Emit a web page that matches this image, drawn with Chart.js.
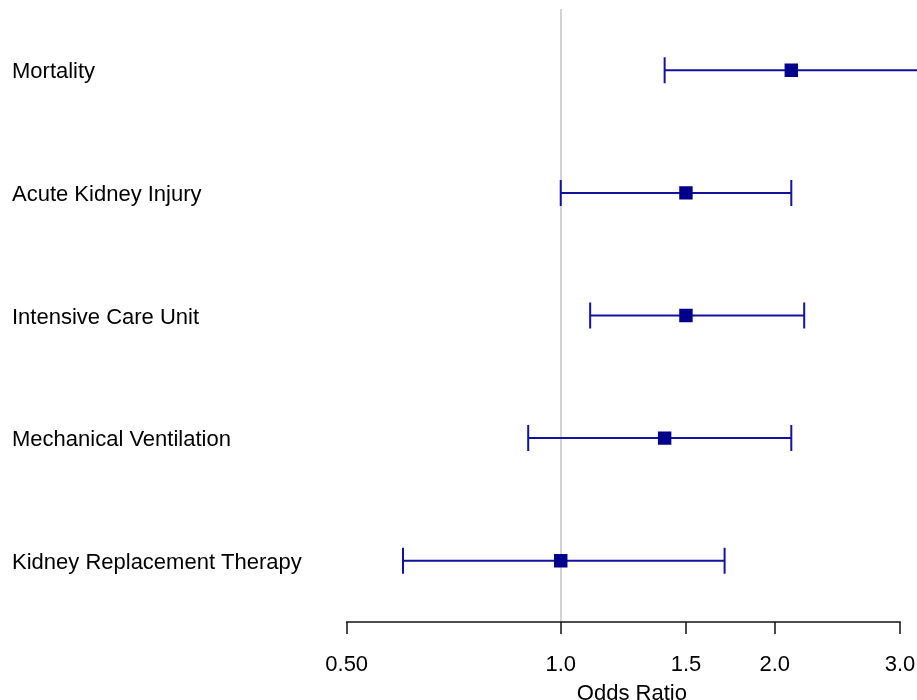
<!DOCTYPE html>
<html>
<head>
<meta charset="utf-8">
<script src="https://cdn.jsdelivr.net/npm/chart.js@4"></script>
<style>
  html, body { margin: 0; padding: 0; background: #fff; overflow: hidden; }
  #wrap { width: 917px; height: 720px; }
</style>
</head>
<body>
<div id="wrap"><canvas id="forest" width="917" height="720"></canvas></div>
<script>
/* forest plot: odds ratios with 95% CI */
var outcomes  = ['Mortality', 'Acute Kidney Injury', 'Intensive Care Unit', 'Mechanical Ventilation', 'Kidney Replacement Therapy'];
var oddsRatio = [2.11, 1.50, 1.50, 1.40, 1.00];
var lowerCI   = [1.40, 1.00, 1.10, 0.90, 0.60];
var upperCI   = [3.40, 2.11, 2.20, 2.11, 1.70];
var tickVals  = [0.5, 1.0, 1.5, 2.0, 3.0];
var tickText  = ['0.50', '1.0', '1.5', '2.0', '3.0'];

Chart.defaults.font.family = "'Liberation Sans', Arial, Helvetica, sans-serif";
Chart.defaults.color = '#000';

var navy = '#00008b';
var whisker = '#1212a0';

// CI whiskers, drawn under the squares
var ciBars = {
  id: 'ciBars',
  beforeDatasetsDraw: function(chart) {
    var ctx = chart.ctx, xs = chart.scales.x, ys = chart.scales.y, a = chart.chartArea;
    ctx.save();
    ctx.beginPath();
    ctx.rect(a.left, a.top, a.right - a.left, a.bottom - a.top);
    ctx.clip();
    ctx.strokeStyle = whisker;
    ctx.lineWidth = 2;
    for (var i = 0; i < outcomes.length; i++) {
      var y = ys.getPixelForValue(i);
      var x0 = xs.getPixelForValue(lowerCI[i]);
      var x1 = xs.getPixelForValue(upperCI[i]);
      ctx.beginPath();
      ctx.moveTo(x0, y); ctx.lineTo(x1, y);
      ctx.moveTo(x0, y - 13); ctx.lineTo(x0, y + 13);
      ctx.moveTo(x1, y - 13); ctx.lineTo(x1, y + 13);
      ctx.stroke();
    }
    ctx.restore();
  },
  // R-style axis line from first to last tick only
  afterDraw: function(chart) {
    var ctx = chart.ctx, xs = chart.scales.x, a = chart.chartArea;
    ctx.save();
    ctx.strokeStyle = '#111';
    ctx.lineWidth = 1.5;
    ctx.beginPath();
    ctx.moveTo(xs.getPixelForValue(tickVals[0]) - 0.75, a.bottom);
    ctx.lineTo(xs.getPixelForValue(tickVals[tickVals.length - 1]) + 0.75, a.bottom);
    ctx.stroke();
    ctx.restore();
  }
};

new Chart(document.getElementById('forest'), {
  type: 'scatter',
  data: {
    datasets: [{
      data: outcomes.map(function(o, i) { return { x: oddsRatio[i], y: o }; }),
      pointStyle: 'rect',
      pointRadius: 9.5,
      pointHoverRadius: 9.5,
      backgroundColor: navy,
      borderColor: navy,
      borderWidth: 0
    }]
  },
  options: {
    responsive: false,
    animation: false,
    layout: { autoPadding: false, padding: { left: 12, top: 9, right: 0, bottom: 0 } },
    plugins: { legend: { display: false }, tooltip: { enabled: false } },
    scales: {
      x: {
        type: 'logarithmic',
        min: 0.5,
        max: 3.17,
        afterBuildTicks: function(s) { s.ticks = tickVals.map(function(v) { return { value: v }; }); },
        afterFit: function(s) { s.height = 98; s.paddingLeft = 0; s.paddingRight = 0; },
        border: { display: false },
        grid: {
          drawOnChartArea: true,
          drawTicks: true,
          tickLength: 12,
          tickWidth: 1.5,
          tickColor: '#111',
          lineWidth: 2,
          color: function(c) { return c.tick && c.tick.value === 1 ? '#d3d3d3' : 'rgba(0,0,0,0)'; }
        },
        ticks: {
          padding: 18,
          maxRotation: 0,
          autoSkip: false,
          font: { size: 22 },
          color: '#000',
          callback: function(v) { var k = tickVals.indexOf(v); return k < 0 ? '' : tickText[k]; }
        },
        title: { display: true, text: 'Odds Ratio', font: { size: 22 }, color: '#000', padding: { top: 0, bottom: 13 } }
      },
      y: {
        type: 'category',
        labels: outcomes,
        offset: true,
        afterFit: function(s) { s.width = 334.7; s.paddingTop = 0; s.paddingBottom = 0; },
        border: { display: false },
        grid: { display: false },
        ticks: { crossAlign: 'far', padding: 0, labelOffset: 2, font: { size: 22 }, color: '#000' }
      }
    }
  },
  plugins: [ciBars]
});
</script>
</body>
</html>
